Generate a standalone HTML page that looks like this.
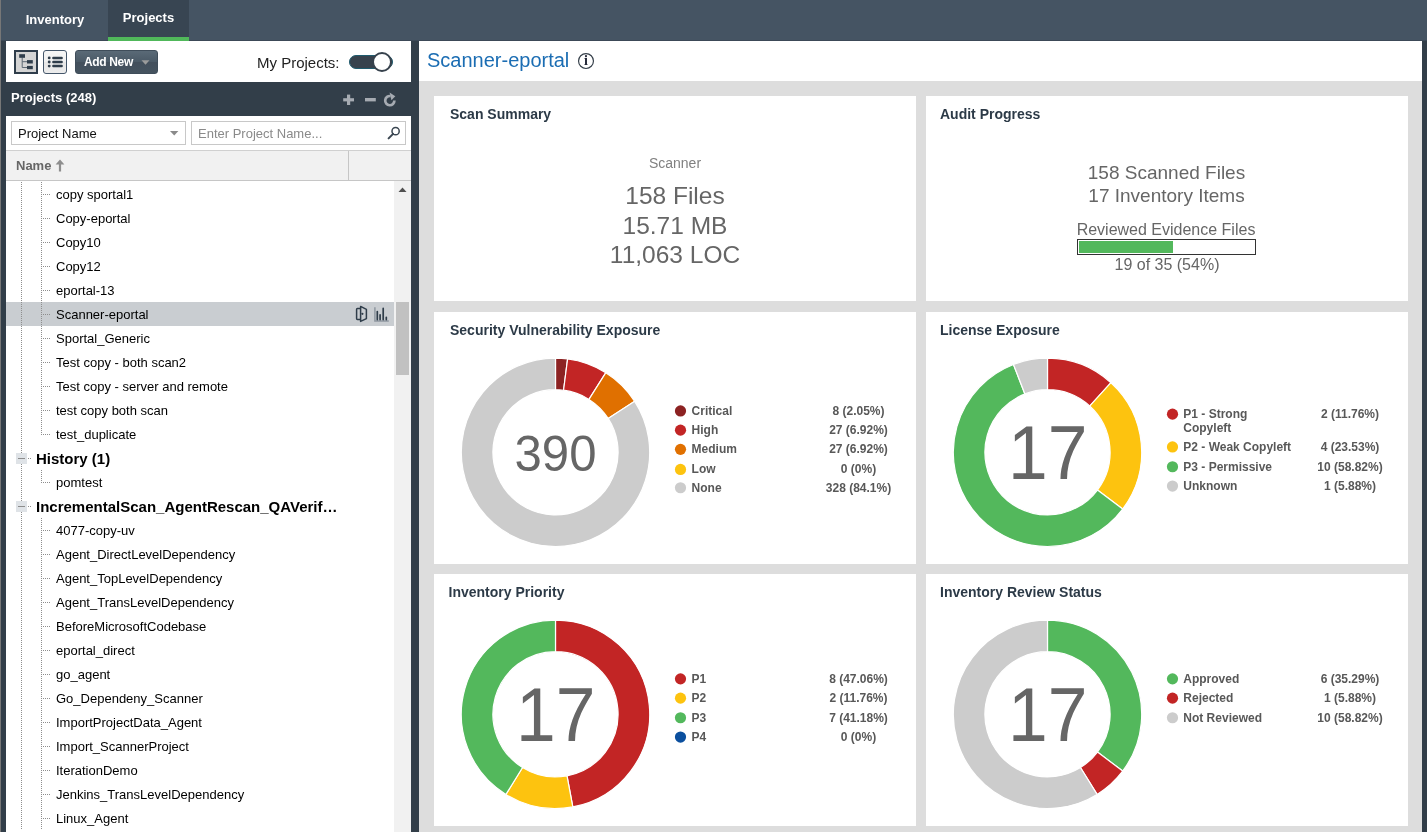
<!DOCTYPE html>
<html><head><meta charset="utf-8"><title>Projects</title>
<style>
*{box-sizing:border-box;margin:0;padding:0}
html,body{width:1427px;height:832px;overflow:hidden}
body{position:relative;background:#323e49;font-family:"Liberation Sans",Arial,sans-serif;font-size:13px;color:#000}
.abs{position:absolute}
#edge{left:0;top:0;width:1px;height:832px;background:#777}
#topbar{left:1px;top:0;width:1426px;height:41px;background:#455463;border-bottom:1px solid #3c4957}
.tab{position:absolute;top:0;height:41px;color:#fff;font-weight:bold;font-size:13px;text-align:center}
#tab1{left:5px;width:100px;line-height:40px}
#tab2{left:108px;width:81px;background:#384552;line-height:35px;border-bottom:4px solid #50b85a}
#ltool{left:6px;top:41px;width:405px;height:41px;background:#fff}
#btree{left:14px;top:50px;width:24px;height:24px;border:2px solid #2f3d4b;background:#d4d4d4}
#blist{left:43px;top:50px;width:24px;height:24px;border:1px solid #44566a;border-radius:3px;background:linear-gradient(#f6f6f6 0%,#f0f0f0 50%,#e6e6e6 51%,#ececec 100%)}
#badd{left:75px;top:50px;width:83px;height:24px;border-radius:3px;background:linear-gradient(#5a6a77 0%,#4a5966 50%,#434f5c 51%,#45535f 100%);border:1px solid #3f4d5a;color:#fff;font-weight:bold;font-size:12px;line-height:22px;padding-left:8px;letter-spacing:-.35px}
#myp{left:257px;top:54px;font-size:15px;color:#222;line-height:17px}
#tog{left:349px;top:55px;width:44px;height:14px;border-radius:7px;background:#37424d;border:1.5px solid #1f5b6e}
#knob{left:372px;top:52px;width:20px;height:20px;border-radius:10px;background:#fff;border:2px solid #37424d}
#phead{left:6px;top:82px;width:405px;height:34px;color:#fff;font-weight:bold;font-size:13px;line-height:31px;padding-left:5px}
#filt{left:6px;top:116px;width:405px;height:35px;background:#fff}
.inp{position:absolute;top:121px;height:24px;border:1px solid #c8c8c8;background:#fff;font-size:13px;line-height:24px;padding-left:6px}
#ghead{left:6px;top:150px;width:405px;height:31px;background:#f1f1f1;border-top:1px solid #d0d0d0;border-bottom:1px solid #c6c6c6;color:#666;font-weight:bold;font-size:13px;line-height:30px;padding-left:10px}
#gsep{left:348px;top:151px;width:1px;height:29px;background:#c6c6c6}
#tree{left:6px;top:181px;width:405px;height:651px;background:#fff;overflow:hidden}
#sbar{left:394px;top:181px;width:17px;height:651px;background:#f1f1f1}
#thumb{left:396px;top:302px;width:13px;height:73px;background:#c1c1c1}
.row{position:absolute;left:6px;width:388px;height:24px;font-size:13px;line-height:24px;white-space:nowrap}
.row span{position:absolute;left:50px;top:1px}
.row.sel{background:#c9cdd1}
.row.grp span{left:30px;font-weight:bold;font-size:15px}
.row i{position:absolute;display:block}
.vl{left:15px;top:0;width:1px;height:24px;background:repeating-linear-gradient(to bottom,#8e8e8e 0 1px,transparent 1px 2px)}
.vl2{left:35px;top:0;width:1px;height:24px;background:repeating-linear-gradient(to bottom,#8e8e8e 0 1px,transparent 1px 2px)}
.vl2.half{height:13px}
.hd{left:36px;top:12px;width:8px;height:1px;background:repeating-linear-gradient(to right,transparent 0 1px,#8e8e8e 1px 2px)}
.hd0{left:21px;top:12px;width:4px;height:1px;background:repeating-linear-gradient(to right,transparent 0 1px,#8e8e8e 1px 2px)}
.exp{left:10px;top:7px;width:11px;height:11px;background:#dfe3e7}
.exp:after{content:"";position:absolute;left:2px;top:5px;width:7px;height:1px;background:#8c8c8c}
.ric{position:absolute;left:346px;top:0}
#rpanel{left:419px;top:41px;width:1003px;height:791px;background:#dddddd}
#rtitle{left:419px;top:41px;width:1003px;height:40px;background:#fff;color:#1b6db3;font-size:20px;line-height:38px;padding-left:8px}
.card{position:absolute;background:#fff;width:482px}
.ct{position:absolute;left:16px;top:10px;font-weight:bold;font-size:14px;color:#2c3a47;line-height:16px;white-space:nowrap}
.cline{position:absolute;left:0;width:482px;text-align:center;color:#666;white-space:nowrap}
svg text{font-family:"Liberation Sans",Arial,sans-serif}
.lg{font-size:12px;font-weight:bold;fill:#585858}
</style></head><body>
<div id="edge" class="abs"></div>
<div id="topbar" class="abs"></div>
<div class="tab" id="tab1">Inventory</div>
<div class="tab" id="tab2">Projects</div>

<div id="ltool" class="abs"></div>
<div id="btree" class="abs"><svg width="20" height="20" viewBox="16 52 20 20" style="display:block"><path d="M22.2 57.5V67.5H27M22.2 61.7H27" fill="none" stroke="#5c6873" stroke-width="1"/><rect x="19.2" y="54.2" width="5.8" height="3.6" fill="#2f3d4b"/><rect x="27" y="60.1" width="5.8" height="3.4" fill="#2f3d4b"/><rect x="27" y="65.9" width="5.8" height="3.3" fill="#2f3d4b"/></svg></div>
<div id="blist" class="abs"><svg width="22" height="22" viewBox="44 51 22 22" style="display:block"><g fill="#2f3d4b"><circle cx="49.2" cy="57.9" r="1.45"/><circle cx="49.2" cy="62" r="1.45"/><circle cx="49.2" cy="66.1" r="1.45"/></g><g stroke="#2f3d4b" stroke-width="2.5" stroke-linecap="round"><path d="M53.4 57.9H61.6M53.4 62H61.6M53.4 66.1H61.6"/></g></svg></div>
<div id="badd" class="abs">Add New<svg width="10" height="6" viewBox="0 0 10 6" style="position:absolute;left:65px;top:9px"><path d="M0.5 0.3H8.5L4.5 4.8Z" fill="#9b9b9b"/></svg></div>
<div id="myp" class="abs">My Projects:</div>
<div id="tog" class="abs"></div><div id="knob" class="abs"></div>

<div id="phead" class="abs">Projects (248)</div>
<svg class="abs" style="left:340px;top:90px" width="60" height="20" viewBox="340 90 60 20"><g fill="#a6abb2"><rect x="343.2" y="98.2" width="10.8" height="3.2"/><rect x="347" y="94.6" width="3.2" height="10.4"/><rect x="365" y="98" width="10.8" height="3.4"/></g><path d="M394.4 100.6A4.6 4.6 0 1 1 390.6 96.1" fill="none" stroke="#a6abb2" stroke-width="2.7"/><path d="M389.6 92.6L395.3 96.3L391.4 100.3Z" fill="#a6abb2"/></svg>

<div id="filt" class="abs"></div>
<div class="inp" style="left:11px;width:175px;color:#111">Project Name<svg width="9" height="5" viewBox="0 0 9 5" style="position:absolute;left:158px;top:9px"><path d="M0 0H8.4L4.2 4.6Z" fill="#8a8a8a"/></svg></div>
<div class="inp" style="left:191px;width:215px;color:#8a8a8a">Enter Project Name...<svg width="14" height="14" viewBox="0 0 14 14" style="position:absolute;left:195px;top:4px"><circle cx="8.6" cy="5.2" r="3.6" fill="none" stroke="#3a4651" stroke-width="1.5"/><path d="M6.1 7.9L1.6 12.4" stroke="#3a4651" stroke-width="2" stroke-linecap="round"/></svg></div>
<div id="ghead" class="abs">Name<svg width="10" height="13" viewBox="0 0 10 13" style="position:absolute;left:49px;top:8px"><path d="M5 0.4L9.4 5.5H6.1V12.6H3.9V5.5H0.6Z" fill="#8e8e8e"/></svg></div>
<div id="gsep" class="abs"></div>
<div id="tree" class="abs"></div>
<div class="row" style="top:182px"><i class="vl"></i><i class="vl2"></i><i class="hd"></i><span>copy sportal1</span></div>
<div class="row" style="top:206px"><i class="vl"></i><i class="vl2"></i><i class="hd"></i><span>Copy-eportal</span></div>
<div class="row" style="top:230px"><i class="vl"></i><i class="vl2"></i><i class="hd"></i><span>Copy10</span></div>
<div class="row" style="top:254px"><i class="vl"></i><i class="vl2"></i><i class="hd"></i><span>Copy12</span></div>
<div class="row" style="top:278px"><i class="vl"></i><i class="vl2"></i><i class="hd"></i><span>eportal-13</span></div>
<div class="row sel" style="top:302px"><i class="vl"></i><i class="vl2"></i><i class="hd"></i><span>Scanner-eportal</span><svg class="ric" width="40" height="24" viewBox="352 302 40 24"><g fill="none" stroke="#2f3d4a" stroke-width="1.5" stroke-linejoin="round" stroke-linecap="round"><path d="M360.4 308.6H357.4Q356.6 308.6 356.6 309.4V318.6Q356.6 319.4 357.4 319.4H360.4"/><path d="M360.6 306.4L366.4 309.4V318.6L360.6 321.4Z"/></g><circle cx="362.4" cy="313.8" r="1.1" fill="#2f3d4a"/><path d="M374.9 307.2V321H388.8" fill="none" stroke="#8f97a0" stroke-width="1.5"/><g stroke="#2f3d4a" stroke-width="1.7" stroke-linecap="round"><path d="M377.3 311.6V319.6M380.1 314.8V319.6M383.2 308.4V319.6M386.3 317.3V319.6"/></g></svg></div>
<div class="row" style="top:326px"><i class="vl"></i><i class="vl2"></i><i class="hd"></i><span>Sportal_Generic</span></div>
<div class="row" style="top:350px"><i class="vl"></i><i class="vl2"></i><i class="hd"></i><span>Test copy - both scan2</span></div>
<div class="row" style="top:374px"><i class="vl"></i><i class="vl2"></i><i class="hd"></i><span>Test copy - server and remote</span></div>
<div class="row" style="top:398px"><i class="vl"></i><i class="vl2"></i><i class="hd"></i><span>test copy both scan</span></div>
<div class="row" style="top:422px"><i class="vl"></i><i class="vl2 half"></i><i class="hd"></i><span>test_duplicate</span></div>
<div class="row grp" style="top:446px"><i class="vl" ></i><i class="exp"></i><i class="hd0"></i><span>History (1)</span></div>
<div class="row" style="top:470px"><i class="vl"></i><i class="vl2 half"></i><i class="hd"></i><span>pomtest</span></div>
<div class="row grp" style="top:494px"><i class="vl" ></i><i class="exp"></i><i class="hd0"></i><span>IncrementalScan_AgentRescan_QAVerif…</span></div>
<div class="row" style="top:518px"><i class="vl"></i><i class="vl2"></i><i class="hd"></i><span>4077-copy-uv</span></div>
<div class="row" style="top:542px"><i class="vl"></i><i class="vl2"></i><i class="hd"></i><span>Agent_DirectLevelDependency</span></div>
<div class="row" style="top:566px"><i class="vl"></i><i class="vl2"></i><i class="hd"></i><span>Agent_TopLevelDependency</span></div>
<div class="row" style="top:590px"><i class="vl"></i><i class="vl2"></i><i class="hd"></i><span>Agent_TransLevelDependency</span></div>
<div class="row" style="top:614px"><i class="vl"></i><i class="vl2"></i><i class="hd"></i><span>BeforeMicrosoftCodebase</span></div>
<div class="row" style="top:638px"><i class="vl"></i><i class="vl2"></i><i class="hd"></i><span>eportal_direct</span></div>
<div class="row" style="top:662px"><i class="vl"></i><i class="vl2"></i><i class="hd"></i><span>go_agent</span></div>
<div class="row" style="top:686px"><i class="vl"></i><i class="vl2"></i><i class="hd"></i><span>Go_Dependeny_Scanner</span></div>
<div class="row" style="top:710px"><i class="vl"></i><i class="vl2"></i><i class="hd"></i><span>ImportProjectData_Agent</span></div>
<div class="row" style="top:734px"><i class="vl"></i><i class="vl2"></i><i class="hd"></i><span>Import_ScannerProject</span></div>
<div class="row" style="top:758px"><i class="vl"></i><i class="vl2"></i><i class="hd"></i><span>IterationDemo</span></div>
<div class="row" style="top:782px"><i class="vl"></i><i class="vl2"></i><i class="hd"></i><span>Jenkins_TransLevelDependency</span></div>
<div class="row" style="top:806px"><i class="vl"></i><i class="vl2"></i><i class="hd"></i><span>Linux_Agent</span></div>
<div id="sbar" class="abs"><svg width="17" height="17" style="display:block"><path d="M4.5 11L8.5 6.5L12.5 11Z" fill="#505050"/></svg></div>
<div id="thumb" class="abs"></div>

<div id="rpanel" class="abs"></div>
<div id="rtitle" class="abs">Scanner-eportal<svg width="18" height="18" viewBox="0 0 18 18" style="position:absolute;left:158px;top:11px"><circle cx="9" cy="9" r="7.45" fill="#fff" stroke="#333d48" stroke-width="1.15"/><text x="9.05" y="12.9" text-anchor="middle" font-size="14" font-weight="bold" style="font-family:'Liberation Serif',serif" fill="#262a3a">i</text></svg></div>

<div class="card" style="left:434px;top:96px;height:205px"><div class="ct">Scan Summary</div>
<div class="cline" style="top:58px;font-size:14px;line-height:18px;color:#808080">Scanner</div>
<div class="cline" style="top:85px;font-size:24.5px;line-height:30px">158 Files</div>
<div class="cline" style="top:115px;font-size:24.5px;line-height:30px">15.71 MB</div>
<div class="cline" style="top:144px;font-size:24.5px;line-height:30px">11,063 LOC</div>
</div>
<div class="card" style="left:926px;top:96px;height:205px"><div class="ct" style="left:14px">Audit Progress</div>
<div class="cline" style="top:66px;left:-.5px;font-size:19px;line-height:22px">158 Scanned Files</div>
<div class="cline" style="top:88.5px;left:-.5px;font-size:19px;line-height:22px">17 Inventory Items</div>
<div class="cline" style="top:125px;left:-1px;font-size:16px;line-height:18px">Reviewed Evidence Files</div>
<div style="position:absolute;left:151px;top:143px;width:179px;height:16px;border:1px solid #333;background:#fff"><div style="position:absolute;left:1px;top:1px;width:94px;height:12px;background:#53b85c"></div></div>
<div class="cline" style="top:159.5px;font-size:16px;line-height:18px">19 of 35 (54%)</div>
</div>
<div class="card" style="left:434px;top:312px;height:252px"><div class="ct">Security Vulnerability Exposure</div></div>
<div class="card" style="left:926px;top:312px;height:252px"><div class="ct" style="left:14px">License Exposure</div></div>
<div class="card" style="left:434px;top:574px;height:252px"><div class="ct" style="left:14.5px">Inventory Priority</div></div>
<div class="card" style="left:926px;top:574px;height:252px"><div class="ct" style="left:14px">Inventory Review Status</div></div>
<svg class="abs" style="left:0;top:0;pointer-events:none" width="1427" height="832" viewBox="0 0 1427 832">
<path d="M555.50 358.10A94.2 94.2 0 0 1 567.61 358.88L563.55 390.22A62.6 62.6 0 0 0 555.50 389.70Z" fill="#8c2222" stroke="#fff" stroke-width="1.2" stroke-linejoin="round"/>
<path d="M567.61 358.88A94.2 94.2 0 0 1 605.85 372.68L588.96 399.39A62.6 62.6 0 0 0 563.55 390.22Z" fill="#c22525" stroke="#fff" stroke-width="1.2" stroke-linejoin="round"/>
<path d="M605.85 372.68A94.2 94.2 0 0 1 634.71 401.31L608.14 418.42A62.6 62.6 0 0 0 588.96 399.39Z" fill="#e07000" stroke="#fff" stroke-width="1.2" stroke-linejoin="round"/>
<path d="M634.71 401.31A94.2 94.2 0 1 1 555.50 358.10L555.50 389.70A62.6 62.6 0 1 0 608.14 418.42Z" fill="#cccccc" stroke="#fff" stroke-width="1.2" stroke-linejoin="round"/>
<text x="555.5" y="471.00" text-anchor="middle" font-size="50" fill="#666" textLength="82" lengthAdjust="spacingAndGlyphs">390</text>
<circle cx="680.5" cy="410.95" r="5.6" fill="#8c2222"/>
<text x="691.6" y="414.8" class="lg">Critical</text>
<text x="858.5" y="414.8" class="lg" text-anchor="middle">8 (2.05%)</text>
<circle cx="680.5" cy="430.15" r="5.6" fill="#c22525"/>
<text x="691.6" y="434.0" class="lg">High</text>
<text x="858.5" y="434.0" class="lg" text-anchor="middle">27 (6.92%)</text>
<circle cx="680.5" cy="449.35" r="5.6" fill="#e07000"/>
<text x="691.6" y="453.2" class="lg">Medium</text>
<text x="858.5" y="453.2" class="lg" text-anchor="middle">27 (6.92%)</text>
<circle cx="680.5" cy="469.45" r="5.6" fill="#fdc30f"/>
<text x="691.6" y="473.3" class="lg">Low</text>
<text x="858.5" y="473.3" class="lg" text-anchor="middle">0 (0%)</text>
<circle cx="680.5" cy="487.75" r="5.6" fill="#cccccc"/>
<text x="691.6" y="491.6" class="lg">None</text>
<text x="858.5" y="491.6" class="lg" text-anchor="middle">328 (84.1%)</text>
<path d="M1047.50 358.10A94.2 94.2 0 0 1 1110.96 382.69L1089.67 406.04A62.6 62.6 0 0 0 1047.50 389.70Z" fill="#c22525" stroke="#fff" stroke-width="1.2" stroke-linejoin="round"/>
<path d="M1110.96 382.69A94.2 94.2 0 0 1 1122.67 509.07L1097.46 490.02A62.6 62.6 0 0 0 1089.67 406.04Z" fill="#fdc30f" stroke="#fff" stroke-width="1.2" stroke-linejoin="round"/>
<path d="M1122.67 509.07A94.2 94.2 0 1 1 1013.47 364.46L1024.89 393.93A62.6 62.6 0 1 0 1097.46 490.02Z" fill="#53b85c" stroke="#fff" stroke-width="1.2" stroke-linejoin="round"/>
<path d="M1013.47 364.46A94.2 94.2 0 0 1 1047.50 358.10L1047.50 389.70A62.6 62.6 0 0 0 1024.89 393.93Z" fill="#cccccc" stroke="#fff" stroke-width="1.2" stroke-linejoin="round"/>
<text x="1047.8" y="479.10" text-anchor="middle" font-size="76" fill="#666" textLength="79.4" lengthAdjust="spacingAndGlyphs">17</text>
<circle cx="1172.5" cy="414.15" r="5.6" fill="#c22525"/>
<text x="1183.3" y="418.0" class="lg">P1 - Strong</text>
<text x="1183.3" y="431.6" class="lg">Copyleft</text>
<text x="1350" y="418.0" class="lg" text-anchor="middle">2 (11.76%)</text>
<circle cx="1172.5" cy="446.95" r="5.6" fill="#fdc30f"/>
<text x="1183.3" y="450.8" class="lg">P2 - Weak Copyleft</text>
<text x="1350" y="450.8" class="lg" text-anchor="middle">4 (23.53%)</text>
<circle cx="1172.5" cy="466.75" r="5.6" fill="#53b85c"/>
<text x="1183.3" y="470.6" class="lg">P3 - Permissive</text>
<text x="1350" y="470.6" class="lg" text-anchor="middle">10 (58.82%)</text>
<circle cx="1172.5" cy="486.05" r="5.6" fill="#cccccc"/>
<text x="1183.3" y="489.90000000000003" class="lg">Unknown</text>
<text x="1350" y="489.90000000000003" class="lg" text-anchor="middle">1 (5.88%)</text>
<path d="M555.50 620.10A94.2 94.2 0 0 1 572.81 806.90L567.00 775.83A62.6 62.6 0 0 0 555.50 651.70Z" fill="#c22525" stroke="#fff" stroke-width="1.2" stroke-linejoin="round"/>
<path d="M572.81 806.90A94.2 94.2 0 0 1 505.91 794.39L522.55 767.52A62.6 62.6 0 0 0 567.00 775.83Z" fill="#fdc30f" stroke="#fff" stroke-width="1.2" stroke-linejoin="round"/>
<path d="M505.91 794.39A94.2 94.2 0 0 1 555.50 620.10L555.50 651.70A62.6 62.6 0 0 0 522.55 767.52Z" fill="#53b85c" stroke="#fff" stroke-width="1.2" stroke-linejoin="round"/>
<text x="555.8" y="741.10" text-anchor="middle" font-size="76" fill="#666" textLength="79.4" lengthAdjust="spacingAndGlyphs">17</text>
<circle cx="680.5" cy="678.85" r="5.6" fill="#c22525"/>
<text x="691.6" y="682.6999999999999" class="lg">P1</text>
<text x="858.5" y="682.6999999999999" class="lg" text-anchor="middle">8 (47.06%)</text>
<circle cx="680.5" cy="698.15" r="5.6" fill="#fdc30f"/>
<text x="691.6" y="702.0" class="lg">P2</text>
<text x="858.5" y="702.0" class="lg" text-anchor="middle">2 (11.76%)</text>
<circle cx="680.5" cy="717.75" r="5.6" fill="#53b85c"/>
<text x="691.6" y="721.5999999999999" class="lg">P3</text>
<text x="858.5" y="721.5999999999999" class="lg" text-anchor="middle">7 (41.18%)</text>
<circle cx="680.5" cy="737.05" r="5.6" fill="#0b4f9e"/>
<text x="691.6" y="740.9" class="lg">P4</text>
<text x="858.5" y="740.9" class="lg" text-anchor="middle">0 (0%)</text>
<path d="M1047.50 620.10A94.2 94.2 0 0 1 1122.67 771.07L1097.46 752.02A62.6 62.6 0 0 0 1047.50 651.70Z" fill="#53b85c" stroke="#fff" stroke-width="1.2" stroke-linejoin="round"/>
<path d="M1122.67 771.07A94.2 94.2 0 0 1 1097.09 794.39L1080.45 767.52A62.6 62.6 0 0 0 1097.46 752.02Z" fill="#c22525" stroke="#fff" stroke-width="1.2" stroke-linejoin="round"/>
<path d="M1097.09 794.39A94.2 94.2 0 1 1 1047.50 620.10L1047.50 651.70A62.6 62.6 0 1 0 1080.45 767.52Z" fill="#cccccc" stroke="#fff" stroke-width="1.2" stroke-linejoin="round"/>
<text x="1047.8" y="741.10" text-anchor="middle" font-size="76" fill="#666" textLength="79.4" lengthAdjust="spacingAndGlyphs">17</text>
<circle cx="1172.5" cy="678.85" r="5.6" fill="#53b85c"/>
<text x="1183.3" y="682.6999999999999" class="lg">Approved</text>
<text x="1350" y="682.6999999999999" class="lg" text-anchor="middle">6 (35.29%)</text>
<circle cx="1172.5" cy="698.15" r="5.6" fill="#c22525"/>
<text x="1183.3" y="702.0" class="lg">Rejected</text>
<text x="1350" y="702.0" class="lg" text-anchor="middle">1 (5.88%)</text>
<circle cx="1172.5" cy="717.75" r="5.6" fill="#cccccc"/>
<text x="1183.3" y="721.5999999999999" class="lg">Not Reviewed</text>
<text x="1350" y="721.5999999999999" class="lg" text-anchor="middle">10 (58.82%)</text>
</svg>
</body></html>
